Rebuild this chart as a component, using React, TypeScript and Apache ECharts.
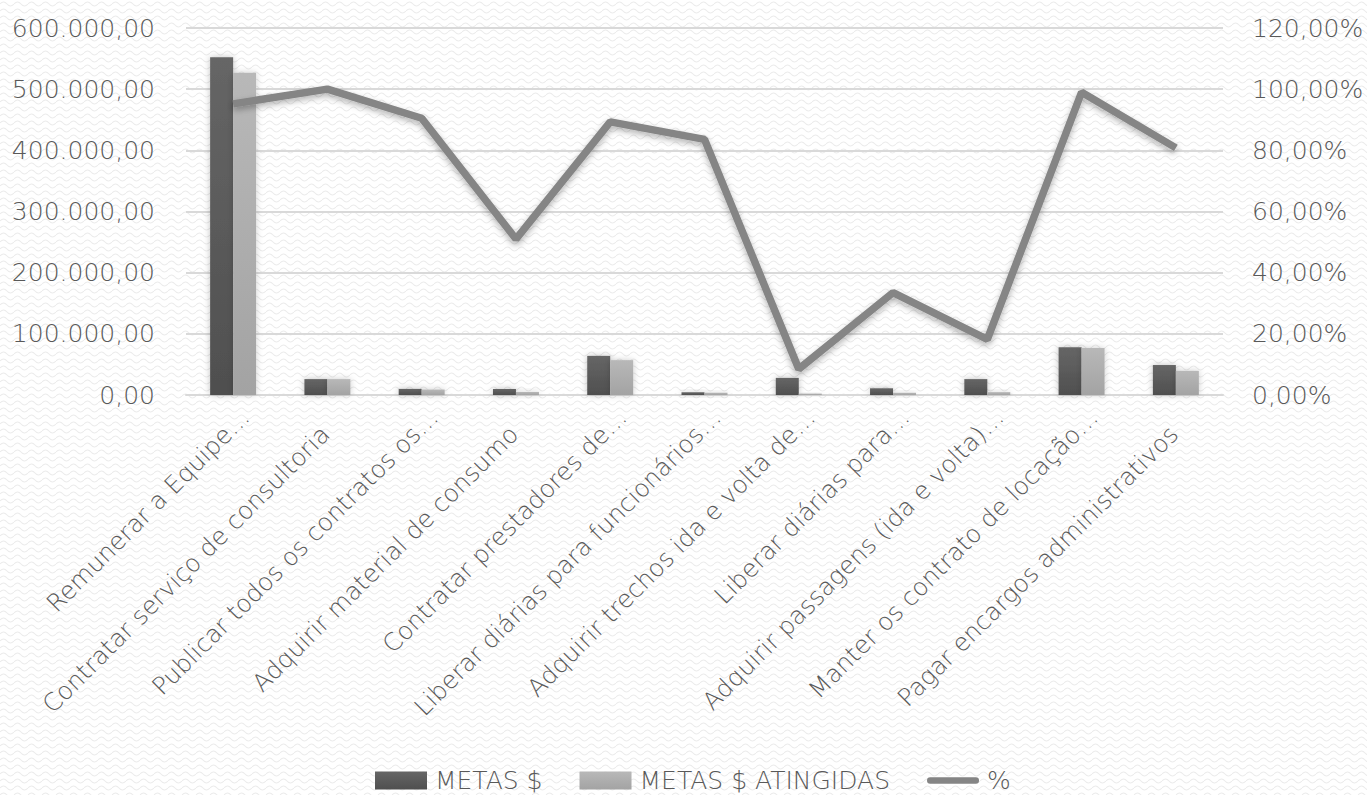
import React, { useEffect, useRef } from "react";
import * as echarts from "echarts";

const categories = [
  "Remunerar a Equipe…",
  "Contratar serviço de consultoria",
  "Publicar todos os contratos os…",
  "Adquirir material de consumo",
  "Contratar prestadores de…",
  "Liberar diárias para funcionários…",
  "Adquirir trechos ida e volta de…",
  "Liberar diárias para…",
  "Adquirir passagens (ida e volta)…",
  "Manter os contrato de locação…",
  "Pagar encargos administrativos",
];
const metas = [552000, 26000, 10000, 10000, 64000, 4500, 28000, 11000, 26000, 78000, 49000];
const metasAtingidas = [527000, 26000, 9000, 5100, 57000, 3800, 2400, 3700, 4700, 77000, 39600];
const percentual = [95.2, 100, 90.5, 51, 89.3, 83.6, 8.5, 33.5, 18.2, 99, 80.8];

const fmtMoney = (v: number) => {
  const s = Math.round(v).toString().replace(/\B(?=(\d{3})+(?!\d))/g, ".");
  return s + ",00";
};
const fmtPct = (v: number) => Math.round(v) + ",00%";

const FONT = "'DejaVu Sans Light', 'DejaVu Sans ExtraLight', 'DejaVu Sans', sans-serif";
const TXT = "#595959";

const bgSvg =
  "<svg xmlns='http://www.w3.org/2000/svg' width='14' height='14'><path d='M0 4 Q3.5 0 7 4 T14 4 M0 11 Q3.5 7 7 11 T14 11' fill='none' stroke='%23ebebeb' stroke-width='1.1'/></svg>";

export default function App() {
  const ref = useRef<HTMLDivElement>(null);
  useEffect(() => {
    document.body.style.margin = "0";
    const chart = echarts.init(ref.current!, undefined, { renderer: "svg" });
    const lbl = { color: TXT, fontFamily: FONT, fontWeight: 200 };
    chart.setOption({
      animation: false,
      backgroundColor: "transparent",
      textStyle: { fontFamily: FONT },
      legend: {
        top: 763,
        left: 370,
        itemWidth: 52,
        itemHeight: 18,
        itemGap: 37,
        textStyle: { ...lbl, fontSize: 25, lineHeight: 25, padding: [0, 0, 0, 3] },
        data: [
          { name: "METAS $", icon: "rect" },
          { name: "METAS $ ATINGIDAS", icon: "rect" },
          {
            name: "%",
            icon: "path://M3.5,0 L53.5,0 A3.5,3.5 0 0 1 53.5,7 L3.5,7 A3.5,3.5 0 0 1 3.5,0 Z",
            itemStyle: { color: "#858585" },
          },
        ],
      },
      grid: { left: 186, right: 144, top: 28, bottom: 400, containLabel: false },
      xAxis: {
        type: "category",
        data: categories,
        boundaryGap: true,
        axisLine: { lineStyle: { color: "#d9d9d9", width: 2 } },
        axisTick: { show: false },
        axisLabel: {
          interval: 0,
          rotate: 45,
          margin: 6,
          ...lbl,
          fontSize: 24.5,
          formatter: (v: string) => (v.endsWith("…") ? `{e|${v}}` : `{f|${v}}`),
          rich: {
            e: { ...lbl, fontSize: 24.5, padding: [34, 0, 0, 0] },
            f: { ...lbl, fontSize: 24.5, padding: [38, 22, 0, 0] },
          },
        },
      },
      yAxis: [
        {
          type: "value",
          min: 0,
          max: 600000,
          interval: 100000,
          axisLine: { show: false },
          axisTick: { show: false },
          splitLine: { lineStyle: { color: "#d9d9d9", width: 2 } },
          axisLabel: { formatter: fmtMoney, ...lbl, fontSize: 25, margin: 31 },
        },
        {
          type: "value",
          min: 0,
          max: 120,
          interval: 20,
          axisLine: { show: false },
          axisTick: { show: false },
          splitLine: { show: false },
          axisLabel: { formatter: fmtPct, ...lbl, fontSize: 25, margin: 29 },
        },
      ],
      series: [
        {
          name: "METAS $",
          type: "bar",
          data: metas,
          barWidth: 23,
          barGap: "0%",
          itemStyle: {
            color: new echarts.graphic.LinearGradient(0, 0, 0, 1, [
              { offset: 0, color: "#666666" },
              { offset: 1, color: "#4f4f4f" },
            ]),
            shadowBlur: 6,
            shadowColor: "rgba(0,0,0,0.25)",
          },
        },
        {
          name: "METAS $ ATINGIDAS",
          type: "bar",
          data: metasAtingidas,
          barWidth: 23,
          itemStyle: {
            color: new echarts.graphic.LinearGradient(0, 0, 0, 1, [
              { offset: 0, color: "#b8b8b8" },
              { offset: 1, color: "#a3a3a3" },
            ]),
            shadowBlur: 6,
            shadowColor: "rgba(0,0,0,0.2)",
          },
        },
        {
          name: "%",
          type: "line",
          yAxisIndex: 1,
          data: percentual,
          symbol: "none",
          lineStyle: {
            color: "#858585",
            width: 7.5,
            shadowBlur: 6,
            shadowColor: "rgba(0,0,0,0.3)",
            shadowOffsetY: 3,
          },
          itemStyle: { color: "#858585" },
        },
      ],
    });
    return () => chart.dispose();
  }, []);
  return (
    <div
      ref={ref}
      style={{
        width: 1367,
        height: 795,
        backgroundColor: "#ffffff",
        backgroundImage: `url("data:image/svg+xml;utf8,${bgSvg}")`,
        backgroundRepeat: "repeat",
      }}
    />
  );
}
